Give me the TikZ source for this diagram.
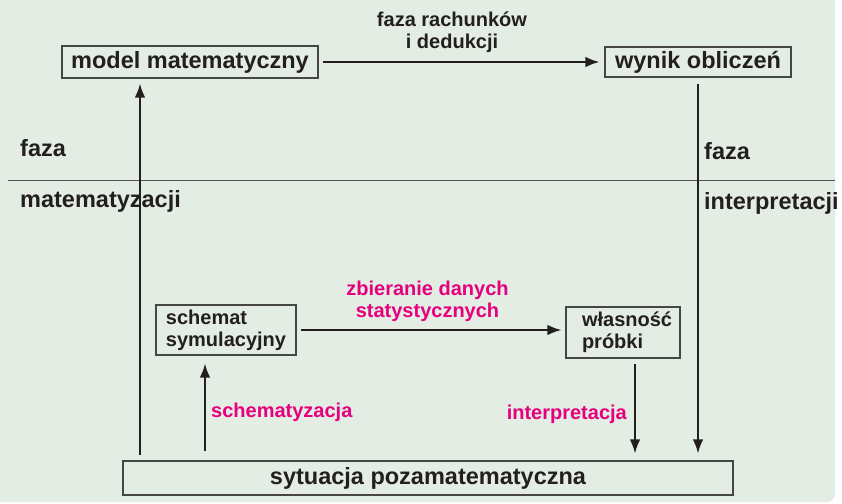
\documentclass[tikz,border=0pt]{standalone}
\usepackage{fontspec}
\setmainfont{Liberation Sans}
\usetikzlibrary{arrows.meta}
\definecolor{bgc}{RGB}{227,237,227}
\definecolor{ink}{RGB}{35,31,32}
\definecolor{mag}{RGB}{230,0,126}
\definecolor{boxc}{RGB}{70,70,70}
\definecolor{divc}{RGB}{85,85,85}
\begin{document}
\begin{tikzpicture}[x=1pt,y=-1pt,
  big/.style={font=\fontsize{23.5}{26}\selectfont\bfseries, text=ink},
  small/.style={font=\fontsize{20}{22}\selectfont\bfseries, text=ink},
  lab/.style={font=\fontsize{20}{22}\selectfont\bfseries, text=mag},
  boxed/.style={draw=boxc, line width=1.1pt, inner sep=0pt},
  arr/.style={draw=ink, line width=1.8pt, -{Latex[length=14pt,width=10.5pt]}},
  divider/.style={draw=divc, line width=0.9pt},
]
\useasboundingbox (0,0) rectangle (842,503);
\fill[bgc, rounded corners=8pt] (-10,-10) rectangle (835,502);

% boxes
\node[boxed,big,minimum width=256pt,minimum height=32pt] (model) at (190,62) {model matematyczny};
\node[boxed,big,minimum width=186pt,minimum height=30pt] (wynik) at (698,62) {wynik obliczeń};
\node[boxed,small,minimum width=140pt,minimum height=50pt,align=left] (schem) at (226,330) {schemat\\symulacyjny};
\node[boxed,small,minimum width=114pt,minimum height=51pt,text width=82pt,align=left] (wlas) at (623,332.5) {\mbox{własność}\\\mbox{próbki}};
\node[boxed,big,minimum width=610pt,minimum height=34pt] (sit) at (428,478) {sytuacja pozamatematyczna};

% labels
\node[big,anchor=base west,inner sep=0pt] (fm1) at (20,156) {faza};
\node[big,anchor=base west,inner sep=0pt] (fm2) at (20,207) {matematyzacji};
\node[big,anchor=base west,inner sep=0pt] (fi1) at (704,159) {faza};
\node[big,anchor=base west,inner sep=0pt] (fi2) at (704,209) {interpretacji};
\node[small,align=center,inner sep=0pt] (faz) at (452,32) {faza rachunków\\i dedukcji};
\node[lab,align=center,inner sep=0pt] (zb) at (427.5,301) {zbieranie danych\\statystycznych};
\node[lab,anchor=base west,inner sep=0pt] (sch) at (211,417) {schematyzacja};
\node[lab,anchor=base east,inner sep=0pt] (intp) at (627,419) {interpretacja};

% divider
\coordinate (dl) at (8,180);
\coordinate (dr) at (835,180);
\draw[divider] (dl) -- (dr);

% connectors
\coordinate (lx) at (140,0);
\coordinate (sx) at (205,0);
\coordinate (ix) at (635,0);
\draw[arr, shorten <=4pt, shorten >=5pt] (model.east) -- (wynik.west);
\draw[arr, shorten <=5pt, shorten >=5pt] (sit.north -| lx) -- (model.south -| lx);
\draw[arr, shorten <=6pt, shorten >=7pt] (wynik.south) -- (wynik.south |- sit.north);
\draw[arr, shorten <=4pt, shorten >=4pt] (schem.east) -- (schem.east -| wlas.west);
\draw[arr, shorten <=9pt, shorten >=8pt] (sit.north -| sx) -- (schem.south -| sx);
\draw[arr, shorten <=5pt, shorten >=7pt] (wlas.south -| ix) -- (sit.north -| ix);
\end{tikzpicture}
\end{document}
